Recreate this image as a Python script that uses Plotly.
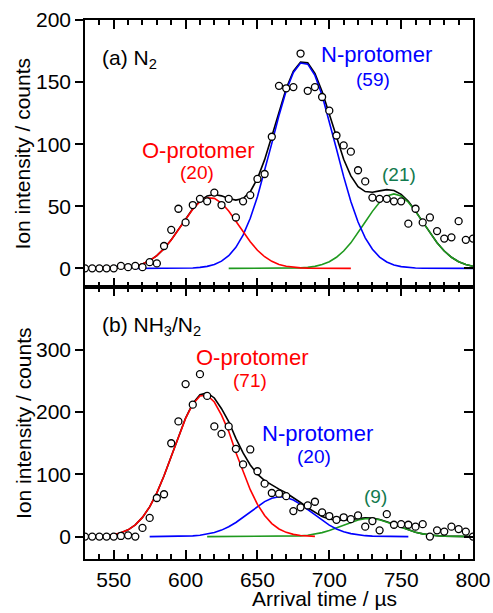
import plotly.graph_objects as go

# ---------------- data ----------------
time_us = list(range(530, 801, 5))

top_counts = [0, 0, 0, 0, 0, 2, 1, 2, 1, 5,
              4, 18, 31, 48, 37, 51, 56, 54, 61, 51,
              56, 41, 54, 59, 72, 76, 106, 147, 145, 146,
              173, 143, 146, 138, 127, 107, 99, 94, 79, 70,
              57, 56, 56, 54, 54, 36, 48, 37, 41, 30,
              24, 25, 38, 23, 24]

bot_counts = [0, 0, 0, 0, 0, 1, 2, 0, 14, 30,
              62, 68, 150, 185, 245, 212, 261, 226, 177, 165,
              177, 141, 116, 140, 105, 85, 70, 69, 65, 41,
              47, 50, 56, 39, 33, 27, 31, 28, 34, 16,
              25, 10, 36, 19, 20, 19, 16, 20, 0, 10,
              8, 16, 12, 8, 0]

# fitted curves, panel (a)
top_total = [0.00, 0.01, 0.03, 0.09, 0.21, 0.47, 0.98, 1.94, 3.60, 6.29,
             10.30, 15.86, 22.95, 31.20, 39.88, 47.97, 54.40, 58.33, 59.49, 58.41,
             56.31, 54.97, 56.26, 61.75, 72.25, 87.55, 106.34, 126.39, 144.83, 158.83,
             166.11, 165.47, 157.09, 142.50, 124.17, 105.05, 87.82, 74.46, 65.85, 61.86,
             61.28, 62.38, 63.38, 62.75, 59.64, 53.95, 46.22, 37.41, 28.58, 20.58,
             13.98, 8.94, 5.39, 3.06, 1.64]
top_O_time = list(range(530, 716, 5))
top_O = [0.00, 0.01, 0.03, 0.09, 0.21, 0.47, 0.98, 1.94, 3.60, 6.29,
         10.30, 15.85, 22.92, 31.13, 39.72, 47.61, 53.62, 56.72, 56.36, 52.62,
         46.15, 38.02, 29.42, 21.39, 14.61, 9.38, 5.65, 3.20, 1.70, 0.85,
         0.40, 0.18, 0.07, 0.03, 0.01, 0.00, 0.00, 0.00]
top_N_time = list(range(565, 801, 5))
top_N = [0.00, 0.00, 0.00, 0.00, 0.01, 0.03, 0.07, 0.16,
         0.36, 0.78, 1.61, 3.13, 5.79, 10.16, 16.95, 26.84, 40.36, 57.64,
         78.17, 100.68, 123.16, 143.06, 157.80, 165.32, 164.46, 155.38, 139.41, 118.77,
         96.11, 73.85, 53.90, 37.33, 24.58, 15.37, 9.11, 5.14, 2.75, 1.40,
         0.68, 0.31, 0.13, 0.06, 0.02, 0.01, 0.00, 0.00, 0.00, 0.00]
top_X_time = list(range(630, 801, 5))
top_X = [0.00, 0.00, 0.00, 0.00, 0.00, 0.00, 0.01, 0.03, 0.07, 0.18,
         0.39, 0.83, 1.64, 3.06, 5.39, 8.94, 13.97, 20.56, 28.52, 37.28,
         45.91, 53.27, 58.24, 60.00, 58.24, 53.27, 45.91, 37.28, 28.52, 20.56,
         13.97, 8.94, 5.39, 3.06, 1.64]

# fitted curves, panel (b)
bot_total = [0.13, 0.32, 0.72, 1.53, 3.11, 5.99, 10.92, 18.86, 30.86, 47.82,
             70.22, 97.70, 128.78, 160.87, 190.48, 213.89, 227.94, 230.86, 222.73, 205.49,
             184.91, 157.73, 134.43, 115.05, 100.39, 90.01, 82.52, 76.29, 69.96, 62.79,
             54.75, 46.39, 38.61, 32.19, 28.12, 26.29, 26.39, 27.72, 29.27, 30.12,
             29.60, 27.47, 23.93, 19.50, 14.86, 10.57, 7.02, 4.35, 2.52, 1.36,
             0.69, 0.32, 0.14, 0.06, 0.02]
bot_O_time = list(range(530, 691, 5))
bot_O = [0.13, 0.32, 0.72, 1.53, 3.11, 5.99, 10.92, 18.86, 30.86, 47.81,
         70.20, 97.65, 128.66, 160.60, 189.90, 212.75, 225.79, 227.02, 216.24, 195.10,
         169.15, 135.09, 103.63, 75.33, 51.87, 33.84, 20.91, 12.24, 6.79, 3.57,
         1.78, 0.84, 0.37]
bot_N_time = list(range(575, 756, 5))
bot_N = [0.01, 0.02, 0.05, 0.12, 0.27, 0.58, 1.14, 2.15, 3.84, 6.49,
         10.39, 15.76, 22.64, 30.80, 39.72, 48.51, 56.15, 61.56, 63.93, 62.90,
         58.63, 51.78, 43.31, 34.32, 25.77, 18.33, 12.35, 7.88, 4.77, 2.73,
         1.48, 0.76, 0.37, 0.17, 0.07, 0.03, 0.01]
bot_X_time = list(range(615, 801, 5))
bot_X = [0, 0, 0, 0, 0, 0, 0, 0.01, 0.02, 0.05,
         0.12, 0.27, 0.59, 1.19, 2.24, 3.92, 6.42, 9.79, 13.94, 18.51,
         22.95, 26.54, 28.64, 28.84, 27.10, 23.76, 19.43, 14.83, 10.56, 7.02,
         4.35, 2.52, 1.36, 0.69, 0.32, 0.14, 0.06, 0.02]

x_range = [530, 800]
x_ticks = [550, 600, 650, 700, 750, 800]
top_y_range = [-15, 200]
top_y_ticks = [0, 50, 100, 150, 200]
bot_y_range = [-36, 401]
bot_y_ticks = [0, 100, 200, 300]

# ---------------- style ----------------
FONT = "Arial, Liberation Sans, sans-serif"
RED, BLUE, GREEN_LINE, GREEN_TXT = "#ff0000", "#0000ff", "#1f9a1f", "#127a4e"
LW = 1.6

fig = go.Figure()

def add_panel(xa, ya, total, o_t, o, n_t, n, x_t, xx, counts):
    fig.add_trace(go.Scatter(x=time_us, y=total, mode="lines", line=dict(color="black", width=LW),
                             xaxis=xa, yaxis=ya, showlegend=False, hoverinfo="skip"))
    fig.add_trace(go.Scatter(x=x_t, y=xx, mode="lines", line=dict(color=GREEN_LINE, width=LW),
                             xaxis=xa, yaxis=ya, showlegend=False, hoverinfo="skip"))
    fig.add_trace(go.Scatter(x=n_t, y=n, mode="lines", line=dict(color=BLUE, width=LW),
                             xaxis=xa, yaxis=ya, showlegend=False, hoverinfo="skip"))
    fig.add_trace(go.Scatter(x=o_t, y=o, mode="lines", line=dict(color=RED, width=LW),
                             xaxis=xa, yaxis=ya, showlegend=False, hoverinfo="skip"))
    fig.add_trace(go.Scatter(x=time_us, y=counts, mode="markers",
                             marker=dict(symbol="circle", size=7, color="white",
                                         line=dict(color="black", width=1.3)),
                             xaxis=xa, yaxis=ya, showlegend=False))

add_panel("x2", "y2", top_total, top_O_time, top_O, top_N_time, top_N, top_X_time, top_X, top_counts)
add_panel("x", "y", bot_total, bot_O_time, bot_O, bot_N_time, bot_N, bot_X_time, bot_X, bot_counts)

# empty traces so the mirrored frame axes are created
for xa, ya in [("x3", "y2"), ("x4", "y"), ("x", "y3"), ("x2", "y4")]:
    fig.add_trace(go.Scatter(x=[None], y=[None], xaxis=xa, yaxis=ya, showlegend=False, hoverinfo="skip"))

split = 272 / 539
tickfont = dict(family=FONT, size=21, color="black")
axline = dict(showline=True, linecolor="black", linewidth=1.5, showgrid=False, zeroline=False,
              tickcolor="black", tickwidth=1.5, automargin=False)
xminor = dict(dtick=10, tick0=530, ticks="inside", ticklen=5, tickwidth=1.5, tickcolor="black", showgrid=False)

fig.update_layout(
    width=493, height=613,
    margin=dict(l=85, r=20, t=20, b=54, autoexpand=False),
    paper_bgcolor="white", plot_bgcolor="white",
    font=dict(family=FONT, size=21, color="black"),
    xaxis=dict(domain=[0, 1], anchor="y", range=x_range, tickvals=x_ticks, ticks="inside", ticklen=9,
               minor=xminor, tickfont=tickfont, ticklabelstandoff=1, **axline),
    xaxis2=dict(domain=[0, 1], anchor="y2", range=x_range, tickvals=x_ticks, ticks="inside", ticklen=9,
                minor=xminor, showticklabels=False, **axline),
    xaxis3=dict(overlaying="x2", anchor="y2", side="top", range=x_range, tickvals=x_ticks, ticks="inside",
                ticklen=9, minor=xminor, showticklabels=False, **axline),
    xaxis4=dict(overlaying="x", anchor="y", side="top", range=x_range, tickvals=x_ticks, ticks="inside",
                ticklen=9, minor=xminor, showticklabels=False, **axline),
    yaxis=dict(domain=[0, split], anchor="x", range=bot_y_range, tickvals=bot_y_ticks, ticks="outside",
               ticklen=8, tickfont=tickfont, **axline),
    yaxis3=dict(overlaying="y", anchor="x", side="right", range=bot_y_range, tickvals=bot_y_ticks,
                ticks="inside", ticklen=9, showticklabels=False, **axline),
    yaxis2=dict(domain=[split, 1], anchor="x2", range=top_y_range, tickvals=top_y_ticks, ticks="outside",
                ticklen=8, tickfont=tickfont, **axline),
    yaxis4=dict(overlaying="y2", anchor="x2", side="right", range=top_y_range, tickvals=top_y_ticks,
                ticks="inside", ticklen=9, showticklabels=False, **axline),
)

def note(text, x, y, xref, yref, color, size, xanchor="center", angle=0):
    fig.add_annotation(text=text, x=x, y=y, xref=xref, yref=yref, showarrow=False, textangle=angle,
                       font=dict(family=FONT, size=size, color=color), xanchor=xanchor, yanchor="middle")

# axis titles (paper coordinates of the plotting area)
note("Arrival time / µs", 0.616, -0.073, "paper", "paper", "black", 21)
note("Ion intensity / counts", -0.16, (1 + split) / 2, "paper", "paper", "black", 21, angle=-90)
note("Ion intensity / counts", -0.16, split / 2, "paper", "paper", "black", 21, angle=-90)

note("(a) N<sub>2</sub>", 540.7, 169, "x2", "y2", "black", 21, "left")
note("O-protomer", 608.8, 95, "x2", "y2", RED, 22)
note("(20)", 607.9, 77.6, "x2", "y2", RED, 19)
note("N-protomer", 732.7, 172.6, "x2", "y2", BLUE, 22)
note("(59)", 730.7, 152.4, "x2", "y2", BLUE, 19)
note("(21)", 748.8, 75.9, "x2", "y2", GREEN_TXT, 19)

note("(b) NH<sub>3</sub>/N<sub>2</sub>", 540.2, 338, "x", "y", "black", 21, "left")
note("O-protomer", 646.3, 287, "x", "y", RED, 22)
note("(71)", 644.5, 250.2, "x", "y", RED, 19)
note("N-protomer", 692, 165, "x", "y", BLUE, 22)
note("(20)", 689.5, 128.3, "x", "y", BLUE, 19)
note("(9)", 732.1, 65, "x", "y", GREEN_TXT, 19)

fig.write_html("out.html", config={"displayModeBar": False},
               post_script="document.body.style.margin='0';document.body.style.overflow='hidden';")
